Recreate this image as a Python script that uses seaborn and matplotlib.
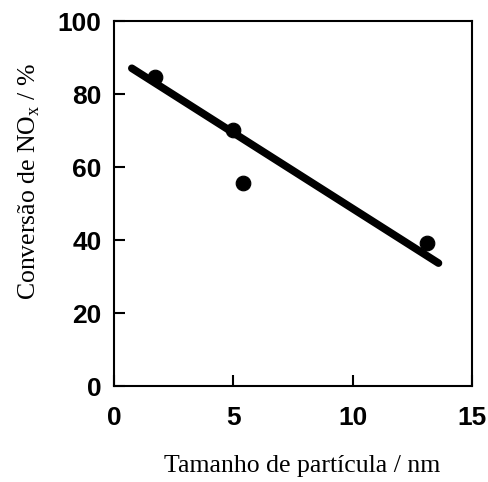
import seaborn as sns
import matplotlib.pyplot as plt
import pandas as pd

# measured points
size_nm = [1.7, 5.0, 5.4, 13.1]
conversion = [84.7, 70.1, 55.6, 39.2]

# fitted trend line (end points)
fit_x = [0.75, 13.6]
fit_y = [87.1, 33.7]

sns.set_style("ticks")
plt.rcParams['mathtext.fontset'] = 'custom'
plt.rcParams['mathtext.rm'] = 'Liberation Serif'
plt.rcParams['text.color'] = 'black'
plt.rcParams['xtick.color'] = 'black'
plt.rcParams['ytick.color'] = 'black'
plt.rcParams['axes.labelcolor'] = 'black'

fig = plt.figure(figsize=(4.89, 4.82), dpi=100)
ax = fig.add_axes([0.233, 0.199, 0.732, 0.757])

pts = pd.DataFrame({'size': size_nm, 'conv': conversion})
fit = pd.DataFrame({'size': fit_x, 'conv': fit_y})

sns.lineplot(data=fit, x='size', y='conv', color='black', linewidth=5.5,
             solid_capstyle='round', ax=ax)
sns.scatterplot(data=pts, x='size', y='conv', color='black', s=110,
                edgecolor='black', zorder=3, ax=ax)

ax.set_xlim(0, 15)
ax.set_ylim(0, 100)
ax.set_xticks([0, 5, 10, 15])
ax.set_yticks([0, 20, 40, 60, 80, 100])
ax.tick_params(axis='both', direction='in', length=8, width=1.5,
               labelsize=19, top=False, right=False)
ax.tick_params(axis='x', pad=14)
ax.tick_params(axis='y', pad=9)
for lab in ax.get_xticklabels() + ax.get_yticklabels():
    lab.set_fontfamily('Liberation Sans')
    lab.set_fontweight('bold')
for sp in ax.spines.values():
    sp.set_linewidth(1.5)
    sp.set_color('black')

ax.set_xlabel('Tamanho de partícula / nm', family='Liberation Serif',
              fontsize=18.5)
ax.set_ylabel(r'Conversão de NO$_\mathrm{x}$ / %', family='Liberation Serif',
              fontsize=18.5)
ax.xaxis.set_label_coords(0.525, -0.19)
ax.yaxis.set_label_coords(-0.20, 0.56)

fig.savefig('out.png', dpi=100)
